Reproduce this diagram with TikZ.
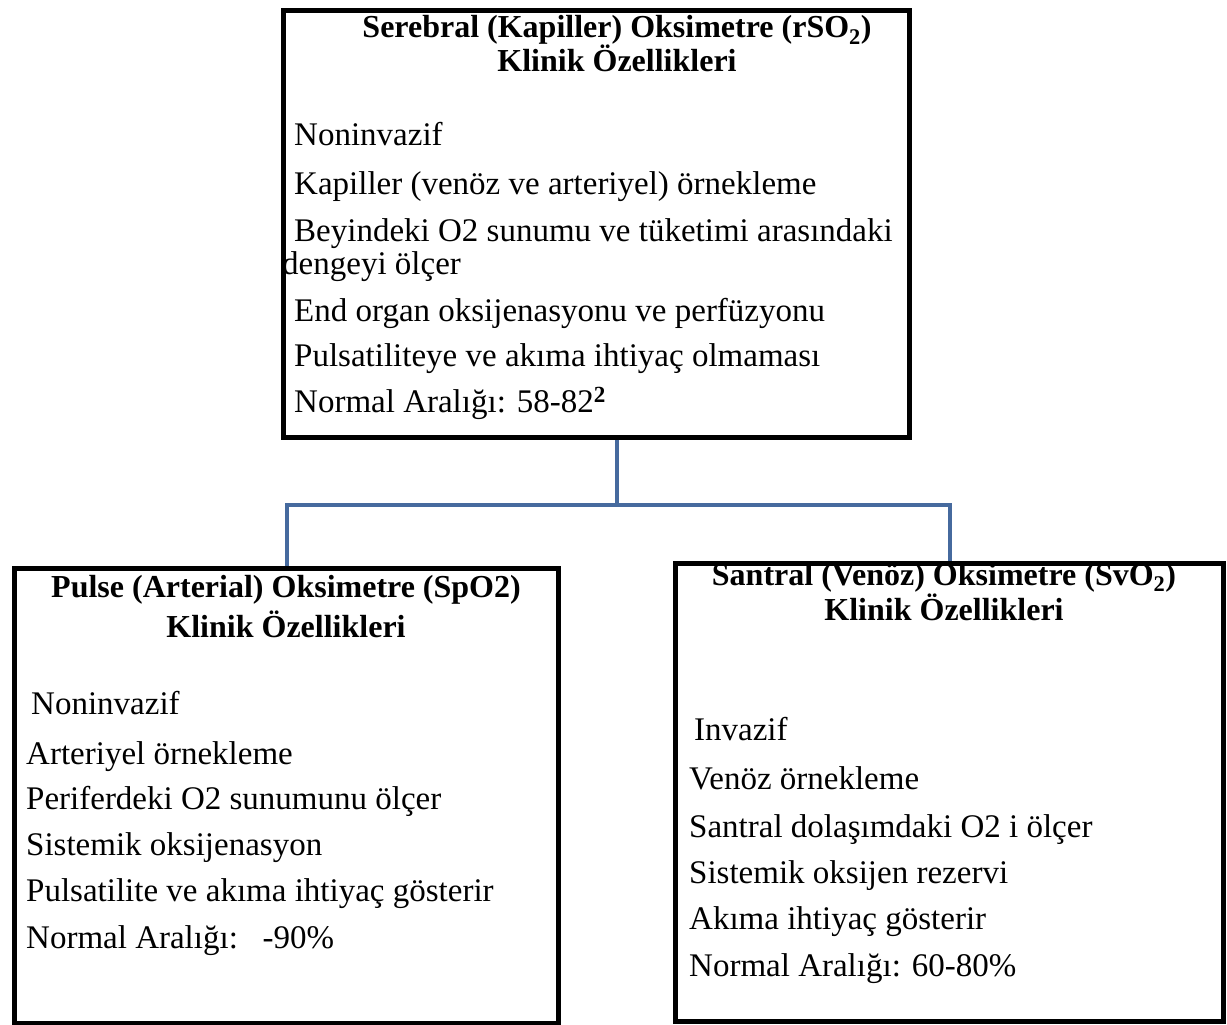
\documentclass[tikz,border=0pt]{standalone}
\usepackage{fontspec}
\setmainfont{Liberation Serif}
\usetikzlibrary{positioning,calc}
\definecolor{linkblue}{RGB}{70,106,158}

\begin{document}
\begin{tikzpicture}[
  x=1pt, y=-1pt,
  panel/.style={draw, line width=5pt, inner sep=0pt, anchor=north west},
  head/.style={anchor=base, inner sep=0pt,
               font=\fontsize{32}{36}\selectfont\bfseries},
  item/.style={anchor=base west, inner sep=0pt,
               font=\fontsize{33}{40}\selectfont},
  link/.style={draw=linkblue, line width=4pt}
]
\useasboundingbox (0,0) rectangle (1227,1025);

% top panel texts
\node[head] (serT1) at (617,38) {Serebral (Kapiller) Oksimetre (rSO\textsubscript{2})};
\node[head] (serT2) at (617,71) {Klinik Özellikleri};
\node[item] (ser1) at (294,145) {Noninvazif};
\node[item] (ser2) at (294,194) {Kapiller (venöz ve arteriyel) örnekleme};
\node[item] (ser3) at (294,241) {Beyindeki O2 sunumu ve tüketimi arasındaki};
\node[item] (ser4) at (282,274) {dengeyi ölçer};
\node[item] (ser5) at (294,321) {End organ oksijenasyonu ve perfüzyonu};
\node[item] (ser6) at (294,366) {Pulsatiliteye ve akıma ihtiyaç olmaması};
\node[item] (ser7) at (294,412) {Normal Aralığı: 58-82\textsuperscript{\bfseries 2}};

% left panel texts
\node[head] (pulT1) at (286,597) {Pulse (Arterial) Oksimetre (SpO2)};
\node[head] (pulT2) at (286,637) {Klinik Özellikleri};
\node[item] (pul1) at (31,714) {Noninvazif};
\node[item] (pul2) at (26,764) {Arteriyel örnekleme};
\node[item] (pul3) at (26,809) {Periferdeki O2 sunumunu ölçer};
\node[item] (pul4) at (26,855) {Sistemik oksijenasyon};
\node[item] (pul5) at (26,901) {Pulsatilite ve akıma ihtiyaç gösterir};
\node[item] (pul6) at (26,948) {Normal Aralığı:\ \ \ -90\%};

% right panel texts
\node[head] (sanT1) at (944,585) {Santral (Venöz) Oksimetre (SvO\textsubscript{2})};
\node[head] (sanT2) at (944,620) {Klinik Özellikleri};
\node[item] (san1) at (694,740) {Invazif};
\node[item] (san2) at (689,789) {Venöz örnekleme};
\node[item] (san3) at (689,837) {Santral dolaşımdaki O2 i ölçer};
\node[item] (san4) at (689,883) {Sistemik oksijen rezervi};
\node[item] (san5) at (689,929) {Akıma ihtiyaç gösterir};
\node[item] (san6) at (689,976) {Normal Aralığı: 60-80\%};

% panels
\node[panel, minimum width=626pt, minimum height=427pt] (serebral) at (281,8) {};
\node[panel, minimum width=544pt, minimum height=455pt] (pulse) at (12,566) {};
\node[panel, minimum width=548pt, minimum height=458pt] (santral) at (673,561) {};

% connectors
\coordinate (split) at (617,505);
\draw[link] (serebral.south -| split) -- (split);
\draw[link] (pulse.north) |- (split) -| (santral.north);

\end{tikzpicture}
\end{document}
